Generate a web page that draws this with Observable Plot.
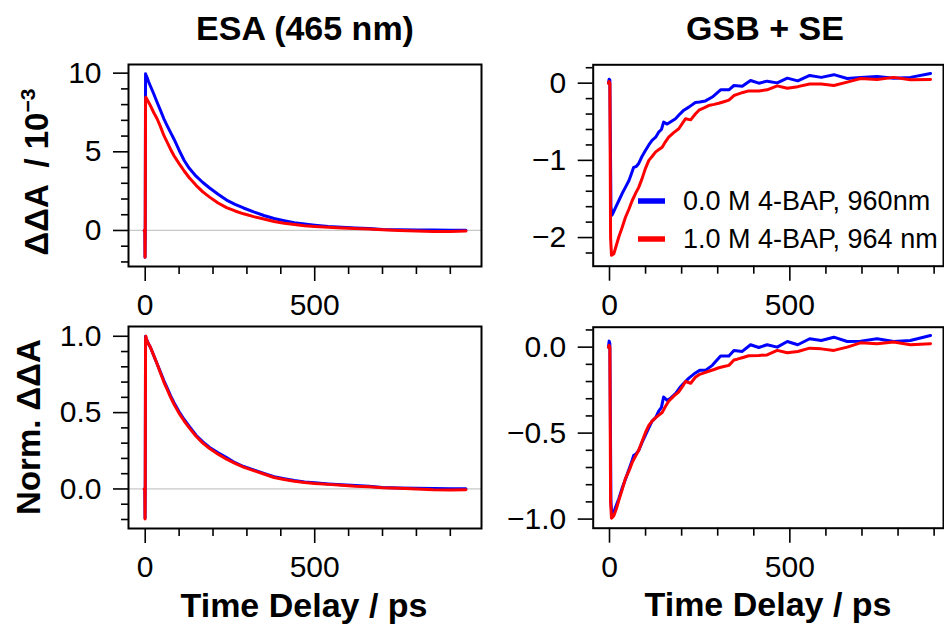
<!DOCTYPE html>
<html>
<head>
<meta charset="utf-8">
<script src="https://cdn.jsdelivr.net/npm/d3@7"></script>
<script src="https://cdn.jsdelivr.net/npm/@observablehq/plot@0.6"></script>
<style>
  body { margin: 0; background: #fff; }
  #fig { position: relative; width: 944px; height: 627px; overflow: hidden; background: #fff; }
</style>
</head>
<body>
<div id="fig"></div>
<script>
// ---- series ----
const seriesNames = ["0.0 M 4-BAP, 960nm", "1.0 M 4-BAP, 964 nm"];
const seriesColors = ["#0000ff", "#ff0000"];

// ---- ESA (465 nm) kinetics, time in ps ----
const esaTime = [-3, -1, -0.5, 0, 1, 2, 5, 10, 15, 25, 35, 45, 55, 65, 75, 85, 100, 115, 130, 150,
  170, 190, 215, 240, 265, 290, 320, 350, 380, 410, 440, 470, 500, 540, 580, 620, 660, 700, 750, 800,
  850, 900, 946];
// ΔΔA in units of 10^-3
const esaBlue = [0, 0, -1.7, -0.4, 9.96, 9.9, 9.75, 9.45, 9.2, 8.69, 8.15, 7.63, 7.1, 6.65, 6.22, 5.8,
  5.1, 4.45, 3.95, 3.45, 3.05, 2.7, 2.3, 1.93, 1.66, 1.43, 1.18, 0.95, 0.76, 0.62, 0.49, 0.41, 0.34,
  0.25, 0.2, 0.16, 0.13, 0.06, 0.04, 0.03, 0.03, 0.02, 0.02];
const esaRed = [0, 0, -1.7, -0.4, 8.3, 8.47, 8.35, 8.15, 7.95, 7.5, 7.1, 6.6, 6.04, 5.6, 5.15, 4.75,
  4.25, 3.78, 3.35, 2.87, 2.45, 2.12, 1.75, 1.45, 1.24, 1.06, 0.88, 0.73, 0.57, 0.46, 0.38, 0.3, 0.25,
  0.2, 0.16, 0.12, 0.1, 0.05, 0.0, -0.03, -0.06, -0.07, -0.04];
// normalized ESA
const esaBlueNorm = [0, 0, -0.19, -0.04, 1.0, 0.99, 0.975, 0.95, 0.93, 0.875, 0.82, 0.765, 0.71, 0.66,
  0.61, 0.565, 0.505, 0.455, 0.41, 0.352, 0.308, 0.272, 0.237, 0.205, 0.172, 0.147, 0.125, 0.102,
  0.08, 0.067, 0.055, 0.046, 0.04, 0.033, 0.027, 0.022, 0.018, 0.01, 0.006, 0.004, 0.003, 0.002, 0.002];
const esaRedNorm = [0, 0, -0.197, -0.04, 0.98, 1.0, 0.97, 0.95, 0.93, 0.875, 0.82, 0.76, 0.70, 0.65,
  0.60, 0.555, 0.495, 0.445, 0.40, 0.345, 0.30, 0.265, 0.228, 0.195, 0.168, 0.143, 0.12, 0.098, 0.075,
  0.062, 0.05, 0.042, 0.036, 0.03, 0.024, 0.018, 0.014, 0.008, 0.004, 0.0, -0.005, -0.007, -0.005];

// ---- GSB + SE kinetics ----
const gsbTimeBlue = [-3, -1, 1, 4, 7, 12, 17, 26, 35, 44, 54, 61, 67, 74, 81, 90, 100, 109, 118, 128,
  137, 144, 150, 160, 170, 183, 195, 206, 220, 238, 250, 266, 285, 308, 331, 345, 368, 391, 414, 437,
  465, 493, 522, 555, 587, 622, 659, 696, 742, 788, 834, 890];
const gsbBlue = [0, 0.05, 0.04, -1.6, -1.71, -1.66, -1.61, -1.52, -1.43, -1.35, -1.26, -1.17, -1.09,
  -1.08, -1.04, -0.95, -0.87, -0.80, -0.74, -0.70, -0.63, -0.60, -0.505, -0.53, -0.50, -0.46, -0.40,
  -0.35, -0.31, -0.25, -0.245, -0.23, -0.18, -0.086, -0.086, -0.03, -0.04, 0.035, 0.0, 0.026, 0.004,
  0.065, 0.03, 0.10, 0.075, 0.11, 0.06, 0.075, 0.088, 0.063, 0.075, 0.125];
const gsbBlueNorm = [0, 0.035, 0.02, -0.9, -0.99, -0.96, -0.93, -0.88, -0.82, -0.77, -0.71, -0.67,
  -0.63, -0.62, -0.60, -0.555, -0.51, -0.47, -0.43, -0.41, -0.37, -0.35, -0.29, -0.31, -0.295, -0.27,
  -0.235, -0.21, -0.18, -0.15, -0.135, -0.135, -0.106, -0.052, -0.052, -0.019, -0.025, 0.014, -0.002,
  0.014, 0.0, 0.033, 0.014, 0.049, 0.039, 0.058, 0.033, 0.035, 0.049, 0.033, 0.039, 0.068];

const gsbTimeRed = [-3, -1, 1, 3, 5.5, 12, 19, 26, 35, 44, 54, 63, 72, 81, 90, 100, 109, 118, 128, 137,
  146, 155, 164, 178, 192, 202, 211, 225, 238, 248, 262, 275, 290, 303, 317, 331, 345, 354, 370, 386,
  414, 437, 465, 493, 522, 555, 587, 622, 659, 696, 742, 788, 834, 890];
const gsbRed = [0, 0.02, 0.0, -2.0, -2.23, -2.21, -2.10, -1.99, -1.87, -1.74, -1.63, -1.52, -1.43,
  -1.35, -1.24, -1.10, -1.0, -0.95, -0.89, -0.86, -0.83, -0.76, -0.70, -0.64, -0.59, -0.52, -0.46,
  -0.475, -0.40, -0.35, -0.32, -0.29, -0.275, -0.26, -0.24, -0.22, -0.16, -0.146, -0.12, -0.10, -0.10,
  -0.086, -0.035, -0.065, -0.045, -0.01, -0.01, -0.03, 0.013, 0.06, 0.048, 0.075, 0.043, 0.048];
const gsbRedNorm = [0, 0.01, 0, -0.9, -0.995, -0.98, -0.94, -0.89, -0.83, -0.765, -0.72, -0.67, -0.635,
  -0.60, -0.55, -0.495, -0.455, -0.43, -0.41, -0.395, -0.38, -0.345, -0.315, -0.285, -0.26, -0.23,
  -0.20, -0.21, -0.175, -0.16, -0.15, -0.14, -0.13, -0.12, -0.113, -0.106, -0.075, -0.07, -0.06, -0.05,
  -0.048, -0.045, -0.019, -0.033, -0.025, -0.006, -0.01, -0.019, 0.0, 0.025, 0.02, 0.03, 0.014, 0.02];

// ---- ticks ----
const timeMajorTicks = [0, 500];
const esaTimeMinorTicks = [100, 200, 300, 400, 600, 700, 800, 900];
const gsbTimeMinorTicks = [100, 200, 300, 400, 600, 700, 800, 900];
const esaMajorTicks = [0, 5, 10];
const esaMinorTicks = [-2, -1, 1, 2, 3, 4, 6, 7, 8, 9];
const esaNormMajorTicks = [0, 0.5, 1.0];
const esaNormMinorTicks = [-0.2, -0.1, 0.1, 0.2, 0.3, 0.4, 0.6, 0.7, 0.8, 0.9];
const gsbMajorTicks = [-2, -1, 0];
const gsbMinorTicks = [-2.2, -1.8, -1.6, -1.4, -1.2, -0.8, -0.6, -0.4, -0.2, 0.2];
const gsbNormMajorTicks = [-1.0, -0.5, 0.0];
const gsbNormMinorTicks = [-0.9, -0.8, -0.7, -0.6, -0.4, -0.3, -0.2, -0.1, 0.1];

const FONT = "'Liberation Sans', Arial, Helvetica, sans-serif";
const fig = document.getElementById("fig");

const rows = (time, values) => time.map((t, i) => ({t, v: values[i]}));
const fmt1 = d3.format(".1f");
const fmt0 = d3.format("d");

function panel(o) {
  const [fx0, fy0, fx1, fy1] = o.frame;
  const svg = Plot.plot({
    width: o.w,
    height: o.h,
    marginLeft: fx0 - o.left,
    marginTop: fy0 - o.top,
    marginRight: o.left + o.w - fx1,
    marginBottom: o.top + o.h - fy1,
    x: {domain: o.xDomain, label: null},
    y: {domain: o.yDomain, label: null},
    style: {background: "transparent", fontFamily: FONT, fontSize: "30px", color: "#000", overflow: "visible"},
    marks: [
      o.zero ? Plot.ruleY([0], {stroke: "#c8c8c8", strokeWidth: 1.2}) : null,
      ...o.lines.map((d, i) => Plot.line(d, {x: "t", y: "v", stroke: seriesColors[i], strokeWidth: 3, strokeLinejoin: "round"})),
      Plot.axisX({ticks: o.xMinor, tickSize: 8, strokeWidth: 1.6, fill: "none", label: null}),
      Plot.axisX({ticks: timeMajorTicks, tickSize: 15, tickPadding: 12, strokeWidth: 1.6, label: null, tickFormat: fmt0}),
      Plot.axisY({ticks: o.yMinor, tickSize: 7, strokeWidth: 1.6, fill: "none", label: null}),
      Plot.axisY({ticks: o.yMajor, tickSize: 15, tickPadding: 12, strokeWidth: 1.6, label: null, tickFormat: o.yFormat}),
      Plot.frame({stroke: "#000", strokeWidth: 2})
    ]
  });
  svg.style.position = "absolute";
  svg.style.left = o.left + "px";
  svg.style.top = o.top + "px";
  fig.append(svg);
}

// ESA, absolute
panel({
  left: 0, top: 0, w: 490, h: 320, frame: [128, 64, 481, 266],
  xDomain: [-49.3, 992], yDomain: [-2.29, 10.55],
  xMinor: esaTimeMinorTicks, yMajor: esaMajorTicks, yMinor: esaMinorTicks, yFormat: fmt0,
  zero: true, lines: [rows(esaTime, esaBlue), rows(esaTime, esaRed)]
});
// ESA, normalized
panel({
  left: 0, top: 320, w: 490, h: 260, frame: [128, 326, 481, 528],
  xDomain: [-49.3, 992], yDomain: [-0.259, 1.064],
  xMinor: esaTimeMinorTicks, yMajor: esaNormMajorTicks, yMinor: esaNormMinorTicks, yFormat: fmt1,
  zero: true, lines: [rows(esaTime, esaBlueNorm), rows(esaTime, esaRedNorm)]
});
// GSB + SE, absolute
panel({
  left: 500, top: 0, w: 444, h: 320, frame: [592.7, 64.3, 943, 265.7],
  xDomain: [-45.2, 926], yDomain: [-2.371, 0.238],
  xMinor: gsbTimeMinorTicks, yMajor: gsbMajorTicks, yMinor: gsbMinorTicks, yFormat: d3.format("d"),
  zero: false, lines: [rows(gsbTimeBlue, gsbBlue), rows(gsbTimeRed, gsbRed)]
});
// GSB + SE, normalized
panel({
  left: 500, top: 320, w: 444, h: 260, frame: [592.7, 326.7, 943, 527.7],
  xDomain: [-45.2, 926], yDomain: [-1.053, 0.116],
  xMinor: gsbTimeMinorTicks, yMajor: gsbNormMajorTicks, yMinor: gsbNormMinorTicks, yFormat: fmt1,
  zero: false, lines: [rows(gsbTimeBlue, gsbBlueNorm), rows(gsbTimeRed, gsbRedNorm)]
});

// ---- titles, axis labels and legend ----
const ann = d3.select(fig).append("svg")
  .attr("width", 944).attr("height", 627)
  .style("position", "absolute").style("left", 0).style("top", 0)
  .style("pointer-events", "none")
  .attr("font-family", FONT);

const bold = (x, y, text) => ann.append("text")
  .attr("x", x).attr("y", y).attr("text-anchor", "middle")
  .attr("font-weight", "bold").attr("font-size", 34).text(text);

bold(305, 40, "ESA (465 nm)");
bold(765, 40, "GSB + SE");
bold(304, 617, "Time Delay / ps");
bold(768, 616, "Time Delay / ps");

const yl1 = ann.append("text")
  .attr("transform", "translate(48,172) rotate(-90)")
  .attr("text-anchor", "middle").attr("font-weight", "bold").attr("font-size", 33);
yl1.append("tspan").text("ΔΔA\u2002/ 10");
yl1.append("tspan").attr("dy", -13).attr("font-size", 21).text("\u22123");

ann.append("text")
  .attr("transform", "translate(40,427) rotate(-90)")
  .attr("text-anchor", "middle").attr("font-weight", "bold").attr("font-size", 33)
  .text("Norm. ΔΔA");

const legendY = [201, 239];
seriesNames.forEach((name, i) => {
  ann.append("line")
    .attr("x1", 638).attr("x2", 665).attr("y1", legendY[i]).attr("y2", legendY[i])
    .attr("stroke", seriesColors[i]).attr("stroke-width", 5.5);
  ann.append("text")
    .attr("x", 683).attr("y", legendY[i] + 9)
    .attr("font-size", 27).text(name);
});
</script>
</body>
</html>
